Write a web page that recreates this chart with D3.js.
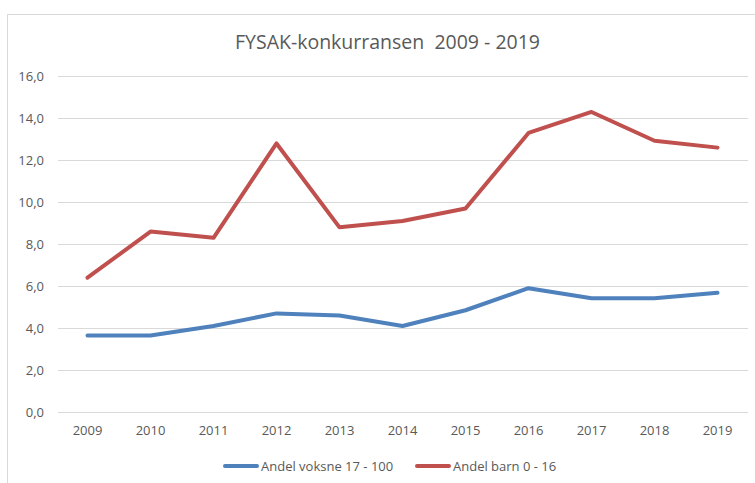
<!DOCTYPE html>
<html><head><meta charset="utf-8">
<script src="https://cdn.jsdelivr.net/npm/d3@7"></script>
<style>body{margin:0;background:#fff}svg{display:block}text{font-family:"Open Sans",sans-serif;fill:#595959}</style>
</head><body>
<script>
const years = ["2009","2010","2011","2012","2013","2014","2015","2016","2017","2018","2019"];
const voksne = [3.65,3.65,4.1,4.7,4.6,4.1,4.85,5.9,5.42,5.42,5.68];
const barn = [6.4,8.6,8.3,12.8,8.8,9.1,9.7,13.3,14.3,12.93,12.6];
const yTicks = [0,2,4,6,8,10,12,14,16];
const seriesNames = ["Andel voksne 17 - 100","Andel barn 0 - 16"];
const colors = ["#4F81BD","#C0504D"];
const titleText = "FYSAK-konkurransen\u00a0\u00a02009 - 2019";

const W=755,H=483;
const svg=d3.select("body").append("svg").attr("width",W).attr("height",H);
// chart border
svg.append("path").attr("d","M7.5,490 V14.5 H760").attr("fill","none").attr("stroke","#d9d9d9").attr("stroke-width",1);

const x=d3.scaleBand().domain(years).range([56,749]);
const y=d3.scaleLinear().domain([0,16]).range([412,76.3]);

// gridlines
svg.append("g").selectAll("line").data(yTicks).join("line")
  .attr("x1",58).attr("x2",748).attr("y1",d=>Math.round(y(d))+0.5).attr("y2",d=>Math.round(y(d))+0.5)
  .attr("stroke","#d9d9d9").attr("stroke-width",1);

// y axis
const ya=svg.append("g").attr("transform","translate(44,0)")
  .call(d3.axisLeft(y).tickValues(yTicks).tickSize(0).tickPadding(0).tickFormat(d=>d3.format(".1f")(d).replace(".",",")));
ya.select(".domain").remove();
ya.selectAll("text").style("font-size","13px").attr("fill","#595959").style("font-family","'Open Sans',sans-serif");

// x axis
const xa=svg.append("g").attr("transform","translate(0,426)")
  .call(d3.axisBottom(x).tickSize(0).tickPadding(0));
xa.select(".domain").remove();
xa.selectAll("text").style("font-size","13px").attr("fill","#595959").style("font-family","'Open Sans',sans-serif");

// lines
const line=d3.line().x((d,i)=>x(years[i])+x.bandwidth()/2).y(d=>y(d));
[voksne,barn].forEach((s,k)=>{
  svg.append("path").datum(s).attr("d",line).attr("fill","none")
    .attr("stroke",colors[k]).attr("stroke-width",4).attr("stroke-linejoin","round").attr("stroke-linecap","round");
});

// title
const t=svg.append("text").attr("x",387.5).attr("y",49).attr("text-anchor","middle")
  .style("font-size","18px").text(titleText);
const tw=t.node().getComputedTextLength();
t.style("font-size",(18*305/tw).toFixed(2)+"px");

// legend
const lg=[{x1:225,x2:257,tx:261},{x1:417,x2:449,tx:453}];
lg.forEach((l,k)=>{
  svg.append("line").attr("x1",l.x1).attr("x2",l.x2).attr("y1",466).attr("y2",466)
    .attr("stroke",colors[k]).attr("stroke-width",4).attr("stroke-linecap","round");
  svg.append("text").attr("x",l.tx).attr("y",470.5).style("font-size","13px").text(seriesNames[k]);
});
</script>
</body></html>
